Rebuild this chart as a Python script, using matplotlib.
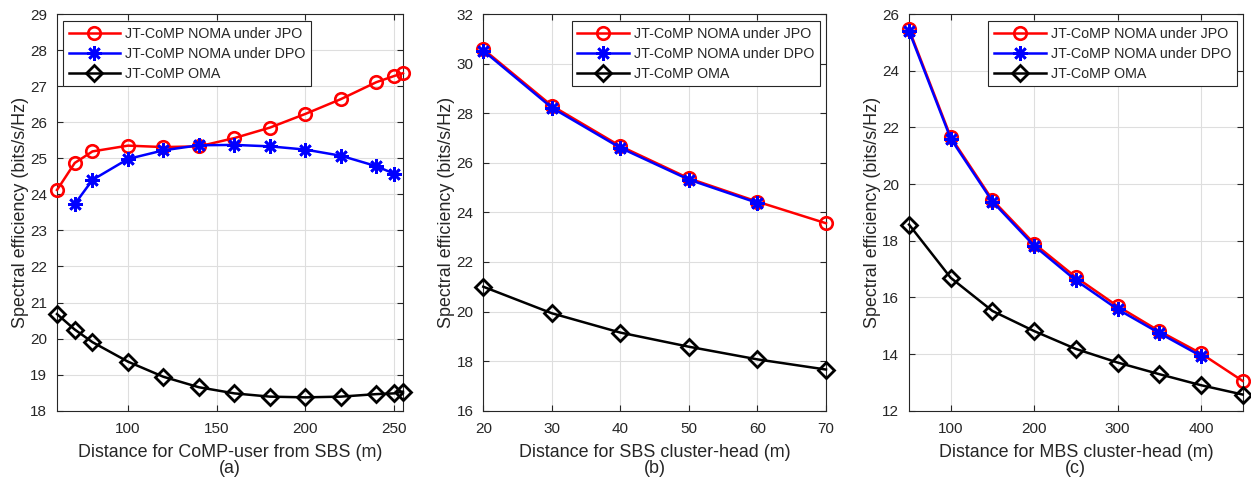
import matplotlib
matplotlib.use("Agg")
import matplotlib.pyplot as plt

plt.rcParams['font.family'] = ['Liberation Sans', 'DejaVu Sans']

# ---- data ----
labels = ["JT-CoMP NOMA under JPO", "JT-CoMP NOMA under DPO", "JT-CoMP OMA"]

# (a)
xa_jpo = [60, 70, 80, 100, 120, 140, 160, 180, 200, 220, 240, 250, 255]
ya_jpo = [24.12, 24.87, 25.19, 25.35, 25.31, 25.33, 25.56, 25.85, 26.23, 26.64, 27.11, 27.28, 27.36]
xa_dpo = [70, 80, 100, 120, 140, 160, 180, 200, 220, 240, 250]
ya_dpo = [23.73, 24.40, 24.98, 25.22, 25.36, 25.37, 25.33, 25.24, 25.07, 24.78, 24.57]
xa_oma = [60, 70, 80, 100, 120, 140, 160, 180, 200, 220, 240, 250, 255]
ya_oma = [20.68, 20.25, 19.90, 19.36, 18.94, 18.65, 18.48, 18.39, 18.37, 18.39, 18.46, 18.48, 18.53]

# (b)
xb_jpo = [20, 30, 40, 50, 60, 70]
yb_jpo = [30.58, 28.30, 26.67, 25.37, 24.43, 23.56]
xb_dpo = [20, 30, 40, 50, 60]
yb_dpo = [30.52, 28.22, 26.60, 25.32, 24.38]
xb_oma = [20, 30, 40, 50, 60, 70]
yb_oma = [21.00, 19.93, 19.15, 18.58, 18.07, 17.66]

# (c)
xc_jpo = [50, 100, 150, 200, 250, 300, 350, 400, 450]
yc_jpo = [25.46, 21.66, 19.44, 17.90, 16.71, 15.69, 14.81, 14.02, 13.05]
xc_dpo = [50, 100, 150, 200, 250, 300, 350, 400]
yc_dpo = [25.40, 21.60, 19.38, 17.82, 16.60, 15.58, 14.74, 13.93]
xc_oma = [50, 100, 150, 200, 250, 300, 350, 400, 450]
yc_oma = [18.57, 16.69, 15.52, 14.81, 14.18, 13.70, 13.29, 12.90, 12.57]

xlabels = ["Distance for CoMP-user from SBS (m)",
           "Distance for SBS cluster-head (m)",
           "Distance for MBS cluster-head (m)"]
sublabels = ["(a)", "(b)", "(c)"]
ylabel = "Spectral efficiency (bits/s/Hz)"

xlims = [(60, 255), (20, 70), (50, 450)]
ylims = [(18, 29), (16, 32), (12, 26)]
xticks = [[100, 150, 200, 250], [20, 30, 40, 50, 60, 70], [100, 200, 300, 400]]
yticks = [list(range(18, 30)), list(range(16, 33, 2)), list(range(12, 27, 2))]

data = [
    ((xa_jpo, ya_jpo), (xa_dpo, ya_dpo), (xa_oma, ya_oma)),
    ((xb_jpo, yb_jpo), (xb_dpo, yb_dpo), (xb_oma, yb_oma)),
    ((xc_jpo, yc_jpo), (xc_dpo, yc_dpo), (xc_oma, yc_oma)),
]

W, H = 1251, 487
fig = plt.figure(figsize=(W / 100, H / 100), dpi=100)

boxes = [(57, 403), (483.3, 826), (909, 1242.7)]
top_px, bot_px = 14, 410.7
TXT = '#262626'
asterisk = (8, 2, 0)

for i in range(3):
    l, r = boxes[i]
    ax = fig.add_axes([l / W, 1 - bot_px / H, (r - l) / W, (bot_px - top_px) / H])
    (xj, yj), (xd, yd), (xo, yo) = data[i]
    ax.plot(xj, yj, color='#ff0000', lw=1.8, marker='o', ms=9, mfc='none', mew=1.9,
            label=labels[0], zorder=3, clip_on=False)
    ax.plot(xd, yd, color='#0000ff', lw=1.8, marker=asterisk, ms=10.5, mew=1.9,
            label=labels[1], zorder=4, clip_on=False)
    ax.plot(xo, yo, color='black', lw=1.8, marker='D', ms=8.3, mfc='none', mew=2,
            label=labels[2], zorder=3, clip_on=False)
    ax.set_xlim(*xlims[i])
    ax.set_ylim(*ylims[i])
    ax.set_xticks(xticks[i])
    ax.set_yticks(yticks[i])
    ax.grid(True, color='#dedede', lw=0.8)
    ax.set_axisbelow(True)
    ax.tick_params(direction='in', length=4, width=0.8, labelsize=11,
                   labelcolor=TXT, color=TXT, top=True, right=True)
    ax.tick_params(axis='x', pad=8)
    ax.tick_params(axis='y', pad=7)
    for s in ax.spines.values():
        s.set_color(TXT)
        s.set_linewidth(0.8)
    ax.set_ylabel(ylabel, fontsize=12.9, color=TXT, labelpad=1)
    ax.set_xlabel(xlabels[i] + "\n" + sublabels[i], fontsize=12.9, color=TXT,
                  labelpad=6, linespacing=0.95)
    aw = r - l
    ah = bot_px - top_px
    if i == 0:
        loc, anchor = 'upper left', (6 / aw, 1 - 7 / ah)
    else:
        loc, anchor = 'upper right', (1 - 6 / aw, 1 - 7 / ah)
    leg = ax.legend(loc=loc, bbox_to_anchor=anchor, fontsize=10.3, frameon=True,
                    fancybox=False, edgecolor=TXT, framealpha=1, borderpad=0.4,
                    labelspacing=0.42, handlelength=3.6, handletextpad=0.35,
                    borderaxespad=0)
    leg.get_frame().set_linewidth(0.8)
    for t in leg.get_texts():
        t.set_color(TXT)

fig.savefig("out.png", dpi=100)
